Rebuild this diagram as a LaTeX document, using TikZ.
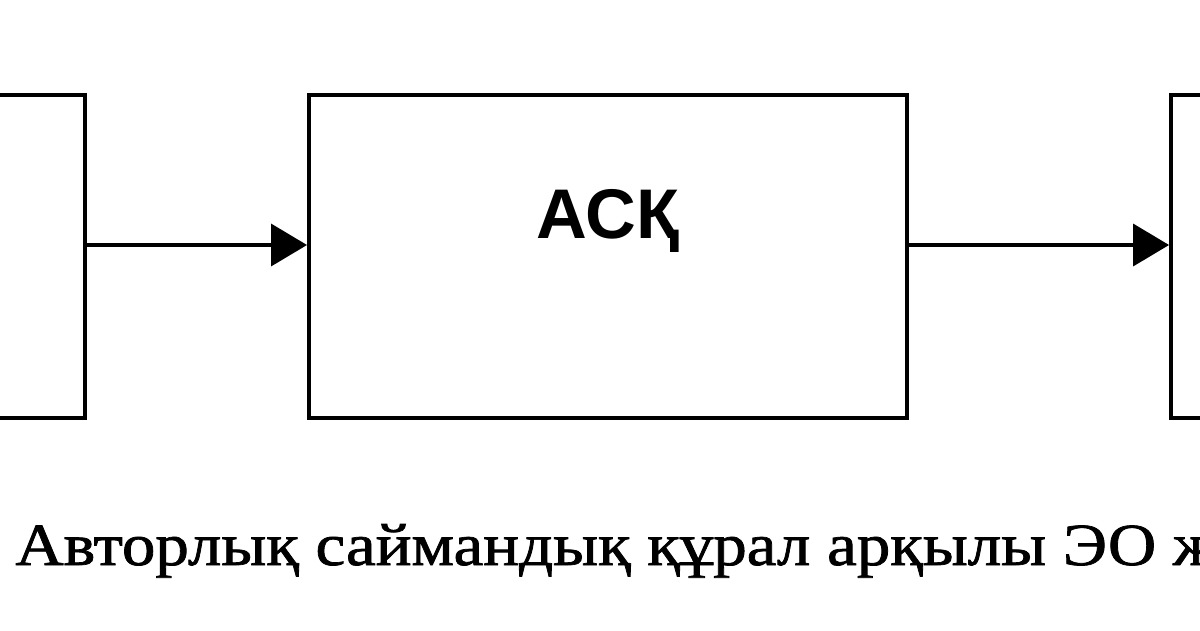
\documentclass[tikz,border=0pt]{standalone}
\usepackage{fontspec}
\setmainfont{Liberation Serif}
\newfontfamily\boxfont{Liberation Sans}
\usetikzlibrary{positioning,arrows.meta}
\tikzset{node distance=4.4cm, auto,
  block/.style={draw, line width=2.3pt, minimum height=6.46cm, inner sep=0pt},
  flow/.style={line width=2.1pt, -{Triangle[length=0.72cm,width=0.84cm]}}}

\begin{document}
\begin{tikzpicture}
                \useasboundingbox (0,0) rectangle (24,12.6);
                \node (prev) [block, minimum width=5.7cm] at (-1.15,7.47) {};
                \node (ask)  [block, minimum width=11.96cm, right=of prev] {};
                \node (next) [block, minimum width=5.7cm, right=5.2cm of ask] {};
                \node at ([yshift=0.72cm]ask.center) {\boxfont\bfseries\fontsize{40}{44}\selectfont АСҚ};
                \node (caption) [anchor=base west, inner sep=0pt] at (0.3,1.3)
                  {\scalebox{1.12}[1]{\addfontfeature{FakeBold=1.2}\fontsize{34}{38}\selectfont Авторлық саймандық құрал арқылы ЭО ж}};
                \draw[flow] (prev.east |- 0,7.7) -- (ask.west |- 0,7.7);
                \draw[flow] (ask.east |- 0,7.7) -- (next.west |- 0,7.7);
              \end{tikzpicture}
\end{document}
